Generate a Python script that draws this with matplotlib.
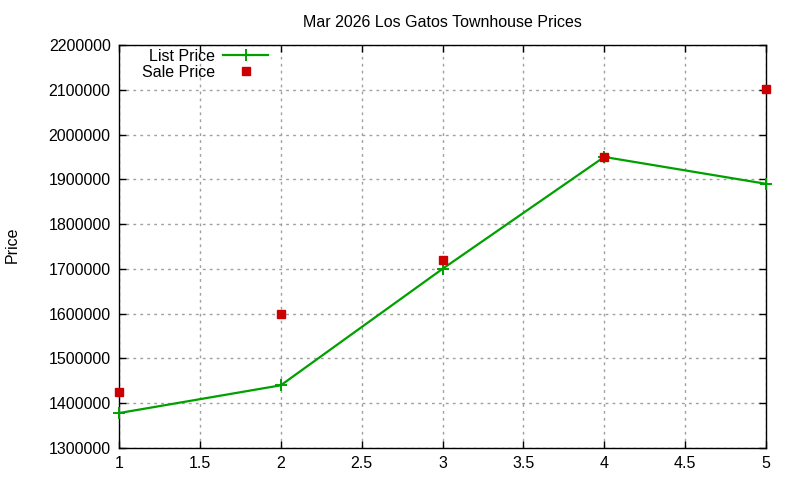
import matplotlib
matplotlib.use("Agg")
import matplotlib.pyplot as plt

plt.rcParams['font.family'] = ['Liberation Sans', 'DejaVu Sans']

x_vals = [1, 2, 3, 4, 5]
list_price = [1378000, 1440000, 1700000, 1950000, 1890000]
sale_price = [1425000, 1600000, 1720000, 1950000, 2102000]
title = "Mar 2026 Los Gatos Townhouse Prices"
x_ticks = [1, 1.5, 2, 2.5, 3, 3.5, 4, 4.5, 5]
x_tick_labels = ["1", "1.5", "2", "2.5", "3", "3.5", "4", "4.5", "5"]
y_ticks = [1300000, 1400000, 1500000, 1600000, 1700000, 1800000, 1900000, 2000000, 2100000, 2200000]

fig = plt.figure(figsize=(8, 4.8), dpi=100)
ax = fig.add_axes([119/800, 1 - 448/480, (766 - 119)/800, (448 - 45)/480])

ax.plot(x_vals, list_price, color='#00a000', lw=1.6, marker='+', ms=8, mew=1.4,
        label='List Price', clip_on=False, zorder=3)
ax.plot(x_vals, sale_price, color='#cc0000', ls='none', marker='s', ms=6,
        label='Sale Price', clip_on=False, zorder=4)

ax.set_xlim(1, 5)
ax.set_ylim(1300000, 2200000)
ax.set_xticks(x_ticks)
ax.set_xticklabels(x_tick_labels)
ax.set_yticks(y_ticks)
ax.set_yticklabels([str(v) for v in y_ticks])
ax.tick_params(direction='in', top=True, right=True, labelsize=11.5, length=5, width=1, pad=6, colors='black')
ax.grid(True, color='#a0a0a0', ls=(0, (2, 3)), lw=1)
for s in ax.spines.values():
    s.set_linewidth(1)
ax.set_ylabel('Price', fontsize=11.5)
ax.yaxis.set_label_coords((20 - 119) / 647, (448 - 245) / 403)
ax.set_title(title, fontsize=11.5, pad=13)

leg = ax.legend(loc='upper right', bbox_to_anchor=((268 - 119) / 647, (448 - 49) / 403),
                frameon=False, fontsize=11.5, markerfirst=False, handlelength=2.8,
                handletextpad=0.5, borderaxespad=0, borderpad=0, labelspacing=0.05)
leg._legend_box.align = "right"

fig.savefig('out.png', dpi=100)
